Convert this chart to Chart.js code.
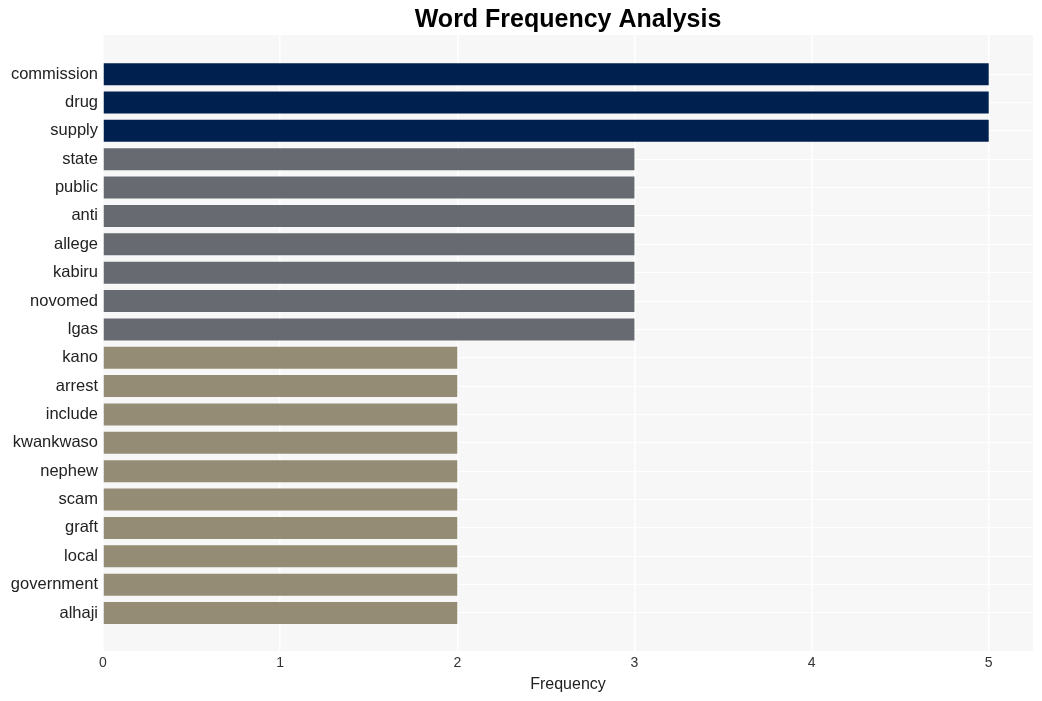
<!DOCTYPE html>
<html>
<head>
<meta charset="utf-8">
<script src="https://cdn.jsdelivr.net/npm/chart.js@4/dist/chart.umd.min.js"></script>
<style>
html,body{margin:0;padding:0;background:#fff;}
#wrap{width:1042px;height:701px;position:relative;}
</style>
</head>
<body>
<div id="wrap"><canvas id="c" width="1042" height="701"></canvas></div>
<script>
const categories = ["commission","drug","supply","state","public","anti","allege","kabiru","novomed","lgas","kano","arrest","include","kwankwaso","nephew","scam","graft","local","government","alhaji"];
const frequencies = [5,5,5,3,3,3,3,3,3,3,2,2,2,2,2,2,2,2,2,2];
const xTicks = [0,1,2,3,4,5];
const chartTitle = "Word Frequency Analysis";
const xTitle = "Frequency";

function colorFor(v){ return v >= 5 ? "#00214f" : (v >= 3 ? "#686a71" : "#958c76"); }

const bgPlugin = {
  id: "bg",
  beforeDraw(chart){
    const {ctx, chartArea:a} = chart;
    ctx.save();
    ctx.fillStyle = "#f7f7f7";
    ctx.fillRect(a.left, a.top, a.right - a.left, a.bottom - a.top);
    ctx.restore();
  },
  afterDraw(chart){
    const {ctx, chartArea:a} = chart;
    ctx.save();
    ctx.font = "bold 25px 'Liberation Sans', Arial, sans-serif";
    ctx.fillStyle = "#000";
    ctx.textAlign = "center";
    ctx.textBaseline = "middle";
    ctx.fillText(chartTitle, (a.left + a.right)/2, 20);
    ctx.restore();
  }
};

new Chart(document.getElementById("c"), {
  type: "bar",
  data: {
    datasets: [{
      data: categories.map((c,i)=>({x: frequencies[i], y: i})),
      backgroundColor: frequencies.map(colorFor),
      borderWidth: 0,
      categoryPercentage: 1,
      barPercentage: 0.775
    }]
  },
  options: {
    indexAxis: "y",
    responsive: false,
    animation: false,
    layout: { padding: { left: 0, right: 9, top: 35, bottom: 0 } },
    plugins: { legend: { display: false }, tooltip: { enabled: false }, title: { display: false } },
    scales: {
      x: {
        type: "linear",
        min: 0, max: 5.25,
        offset: false,
        grid: { color: "#ffffff", lineWidth: 1.5, drawTicks: false, offset: false },
        border: { display: false },
        afterBuildTicks(axis){ axis.ticks = xTicks.map(v=>({value:v})); },
        afterFit(axis){ axis.height = 50; },
        ticks: { padding: 4, color: "#333", font: { family: "'Liberation Sans', Arial, sans-serif", size: 14 } },
        title: { display: true, text: xTitle, color: "#222", padding: { top: 4, bottom: 7 },
                 font: { family: "'Liberation Sans', Arial, sans-serif", size: 16 } }
      },
      y: {
        type: "linear",
        reverse: true,
        offset: false,
        min: -1.38, max: categories.length - 1 + 1.34,
        grid: { color: "#ffffff", lineWidth: 1, drawTicks: false, offset: false },
        border: { display: false },
        afterBuildTicks(axis){ axis.ticks = categories.map((_,i)=>({value:i})); },
        afterFit(axis){ axis.width = 103; },
        ticks: { padding: 5, color: "#222", autoSkip: false,
                 callback: (v)=>categories[v] ?? "",
                 font: { family: "'Liberation Sans', Arial, sans-serif", size: 16.5 } }
      }
    }
  },
  plugins: [bgPlugin]
});
</script>
</body>
</html>
